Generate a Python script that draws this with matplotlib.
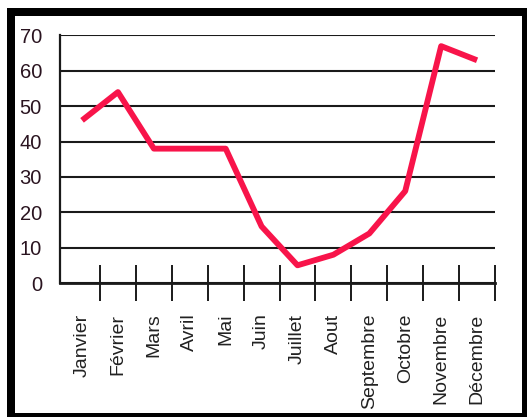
import matplotlib
matplotlib.use("Agg")
import matplotlib.pyplot as plt
from matplotlib.patches import Rectangle
import numpy as np

mois = ['Janvier', 'Février', 'Mars', 'Avril', 'Mai', 'Juin', 'Juillet',
        'Aout', 'Septembre', 'Octobre', 'Novembre', 'Décembre']
valeurs = [46, 54, 38, 38, 38, 16, 5, 8, 14, 26, 67, 63]
y_ticks = [0, 10, 20, 30, 40, 50, 60, 70]

W, H = 527, 419
fig = plt.figure(figsize=(W / 100, H / 100), dpi=100)
fig.patch.set_facecolor('white')

ax = fig.add_axes([60 / W, 1 - 283 / H, 435 / W, 247.5 / H])
x = np.arange(len(mois))
ax.plot(x, valeurs, color='#f8144a', lw=4.2, solid_joinstyle='round',
        solid_capstyle='butt', zorder=3)

ax.set_xlim(-0.614, 11.5)
ax.set_ylim(0, 70)
ax.set_yticks(y_ticks)
ax.set_yticklabels([str(v) for v in y_ticks], family='Liberation Sans',
                   fontsize=14.5, color='#2a1420')
ax.tick_params(axis='y', length=0, pad=13)
ax.yaxis.grid(True, color='#1a1a1a', lw=1.5)
ax.set_axisbelow(True)

ax.set_xticks(x)
ax.set_xticklabels(mois, rotation=90, family='Liberation Sans', fontsize=14,
                   va='top', ha='center', color='#222222')
ax.tick_params(axis='x', which='major', length=0, pad=22)
ax.set_xticks(x + 0.5, minor=True)
ax.tick_params(axis='x', which='minor', direction='inout', length=26,
               width=1.4, color='#1a1a1a')

for s in ['top', 'right']:
    ax.spines[s].set_visible(False)
ax.spines['left'].set_linewidth(1.6)
ax.spines['bottom'].set_linewidth(2.0)
ax.spines['left'].set_color('#1a1a1a')
ax.spines['bottom'].set_color('#1a1a1a')


def box(x0, y0, x1, y1):
    fig.add_artist(Rectangle((x0 / W, 1 - y1 / H), (x1 - x0) / W, (y1 - y0) / H,
                             transform=fig.transFigure, color='black', lw=0))


# cadre noir autour du graphique
box(7, 8, 15, 417)
box(7, 8, 527, 16)
box(522, 8, 527, 417)
box(7, 413, 527, 417)

fig.savefig('out.png', dpi=100)
